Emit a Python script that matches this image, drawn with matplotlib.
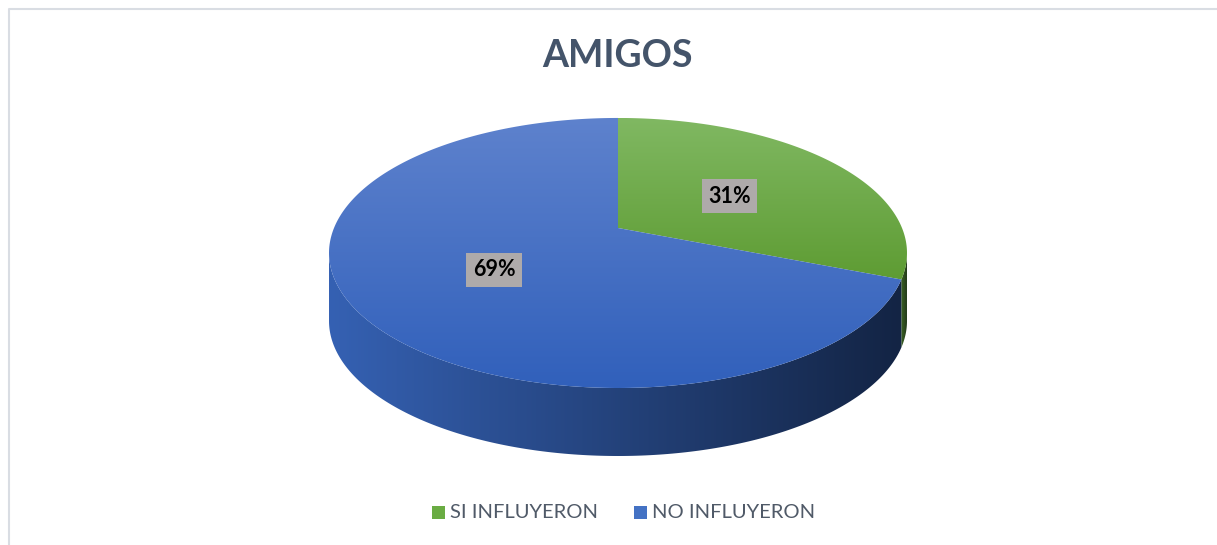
import numpy as np
import matplotlib
matplotlib.use("Agg")
import matplotlib.pyplot as plt
from matplotlib.patches import Polygon, Rectangle
from matplotlib.colors import LinearSegmentedColormap

# ---- data ----
title = "AMIGOS"
categories = ["SI INFLUYERON", "NO INFLUYERON"]
values = [31, 69]
labels = ["31%", "69%"]

# ---- style ----
top_colors = [("#80b862", "#5e9c33"), ("#5e82cd", "#3160bb")]
side_colors = [("#3d6424", "#22391a"), ("#3561b3", "#132444")]
legend_colors = ["#6aac43", "#4472c4"]
W, H = 1217, 545
CX, CY = 618, 228          # projected pie centre
A, B, PERSP = 284.0, 130.4, 0.185
DEPTH = 68

fig = plt.figure(figsize=(W / 100, H / 100), dpi=100)
ax = fig.add_axes([0, 0, 1, 1])
ax.set_xlim(0, W)
ax.set_ylim(H, 0)
ax.axis("off")

# chart border (top and left visible)
ax.plot([8.5, 8.5, W], [H, 8.5, 8.5], color="#d9dde3", lw=1.5, solid_capstyle="butt")


def proj(theta_deg, r=1.0, dz=0.0):
    t = np.radians(theta_deg)
    u, v = r * np.cos(t), r * np.sin(t)
    w = 1 + PERSP * v
    return CX + A * u / w, CY - B * v / w + dz


def gradient_fill(poly_xy, c1, c2, horizontal, zorder):
    patch = Polygon(poly_xy, closed=True, facecolor="none", edgecolor="none", zorder=zorder)
    ax.add_patch(patch)
    cmap = LinearSegmentedColormap.from_list("g", [c1, c2])
    xs, ys = poly_xy[:, 0], poly_xy[:, 1]
    grad = np.linspace(0, 1, 256)
    img = grad[None, :] if horizontal else grad[:, None]
    im = ax.imshow(img, cmap=cmap, extent=(xs.min(), xs.max(), ys.max(), ys.min()),
                   aspect="auto", zorder=zorder, interpolation="bilinear")
    im.set_clip_path(patch)
    ax.set_xlim(0, W)
    ax.set_ylim(H, 0)


# slice angles (clockwise from top)
fracs = np.array(values) / np.sum(values)
starts = 90 - 360 * np.concatenate([[0], np.cumsum(fracs)[:-1]])
ends = starts - 360 * fracs

# visible front side range (silhouette angles)
sil = np.degrees(np.arcsin(-PERSP))  # about -10.7
front_lo, front_hi = 180 - sil - 360, sil

for i in range(len(values)):
    s, e = starts[i], ends[i]
    for off in (0, -360, 360):
        lo2 = max(e + off, front_lo)
        hi2 = min(s + off, front_hi)
        if hi2 > lo2:
            th = np.linspace(lo2, hi2, 200)
            tx, ty = proj(th)
            bx, by = proj(th[::-1], dz=DEPTH)
            poly = np.column_stack([np.concatenate([tx, bx]), np.concatenate([ty, by])])
            gradient_fill(poly, side_colors[i][0], side_colors[i][1], True, 2)

# top faces
for i in range(len(values)):
    th = np.linspace(starts[i], ends[i], 300)
    ax_, ay_ = proj(th)
    poly = np.column_stack([np.concatenate([[CX], ax_]), np.concatenate([[CY], ay_])])
    gradient_fill(poly, top_colors[i][0], top_colors[i][1], False, 3)

# data labels
for i in range(len(values)):
    mid = (starts[i] + ends[i]) / 2
    lx, ly = proj(mid, r=0.5)
    ax.text(lx, ly + 3, labels[i], ha="center", va="center", fontsize=15.5,
            fontweight="bold", family="Lato", color="black", zorder=5,
            bbox=dict(boxstyle="square,pad=0.3", facecolor="#aeaaaa", edgecolor="none"))

# title
ax.text(617, 56, title, ha="center", va="center", fontsize=27, fontweight="bold",
        family="Lato", color="#44546a", zorder=5)

# legend
leg_x = [432, 634]
for i, cat in enumerate(categories):
    ax.add_patch(Rectangle((leg_x[i], 506), 13, 13, facecolor=legend_colors[i],
                           edgecolor="none", zorder=5))
    ax.text(leg_x[i] + 18, 513, cat, ha="left", va="center", fontsize=14.5,
            family="Lato", color="#505a68", zorder=5)

fig.savefig("out.png", dpi=100, facecolor="white")
